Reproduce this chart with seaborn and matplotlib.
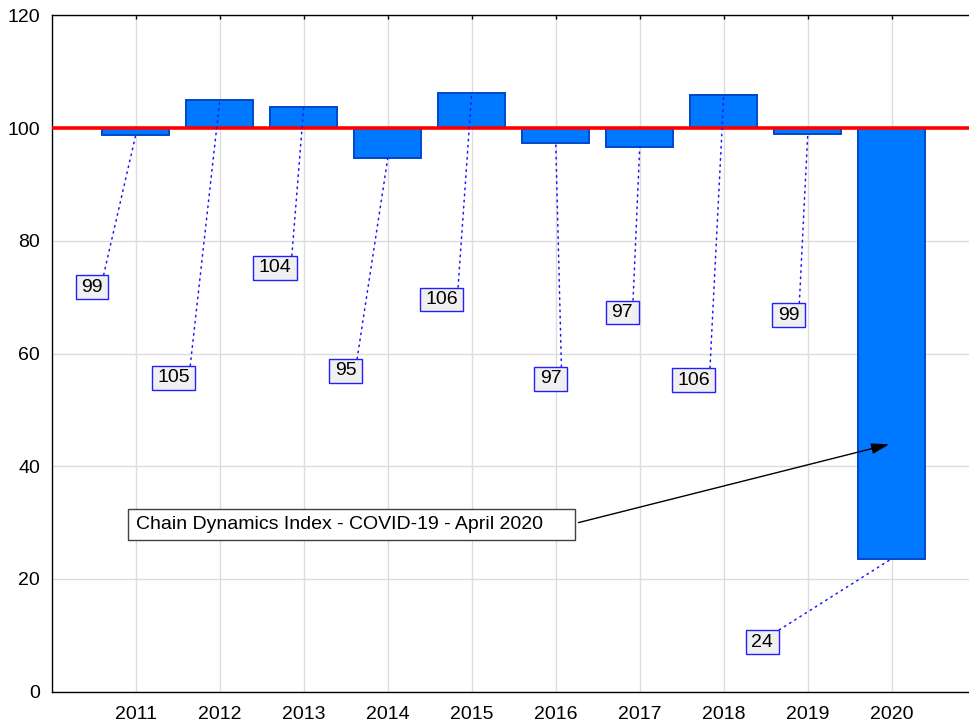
import numpy as np
import pandas as pd
import matplotlib
matplotlib.use("Agg")
import matplotlib.pyplot as plt
from matplotlib.patches import Rectangle
import seaborn as sns

# Chain dynamics index (previous year = 100)
years = [2011, 2012, 2013, 2014, 2015, 2016, 2017, 2018, 2019, 2020]
index_values = [98.8, 104.9, 103.8, 94.6, 106.3, 97.4, 96.7, 105.8, 98.9, 23.6]
base = 100
value_labels = [f"{v:.0f}" for v in index_values]

# where the value boxes sit (data coords)
label_x = [2010.48, 2011.45, 2012.66, 2013.50, 2014.64, 2015.94, 2016.79, 2017.64, 2018.77, 2018.46]
label_y = [71.8, 55.7, 75.2, 56.9, 69.6, 55.5, 67.3, 55.3, 66.8, 8.8]

note_text = "Chain Dynamics Index - COVID-19 - April 2020"

sns.set_style("white")
plt.rcParams["font.family"] = ["Liberation Sans", "DejaVu Sans"]
for key in ["text.color", "axes.labelcolor", "xtick.color", "ytick.color"]:
    plt.rcParams[key] = "black"

df = pd.DataFrame({"year": years, "change": np.array(index_values) - base})

fig = plt.figure(figsize=(9.69, 7.26), dpi=100)
ax = fig.add_axes([0.0534, 0.0472, 0.9466, 0.9317])

sns.barplot(data=df, x="year", y="change", native_scale=True, bottom=base,
            width=0.8, color="#0078FF", saturation=1, errorbar=None,
            edgecolor="#0048C8", linewidth=1.4, ax=ax, zorder=2)

ax.axhline(base, color="#FF0000", lw=2.6, zorder=3)

# value boxes with dotted leaders
for yr, val, lab, lx, ly in zip(years, index_values, value_labels, label_x, label_y):
    ax.annotate(lab, xy=(yr, val), xytext=(lx, ly), textcoords="data",
                ha="center", va="center", fontsize=14, zorder=4,
                bbox=dict(boxstyle="square,pad=0.29", mutation_aspect=0.58,
                          fc="#F0F0F0", ec="#2020FF", lw=1),
                arrowprops=dict(arrowstyle="-", color="#1818FF", lw=1.1,
                                linestyle=(0, (1, 3)), shrinkA=0, shrinkB=0,
                                relpos=(1, 1)))

# note box + arrow to the 2020 bar
ax.add_patch(Rectangle((2010.912, 26.9), 5.318, 5.46, fc="white",
                       ec="#404040", lw=1, zorder=4))
ax.text(2011.0, 29.6, note_text, ha="left", va="center", fontsize=14, zorder=5)
ax.annotate("", xy=(2019.97, 43.9), xytext=(2016.27, 30.0), zorder=5,
            arrowprops=dict(arrowstyle="-|>,head_length=0.6,head_width=0.18",
                            mutation_scale=18, color="black", lw=1,
                            shrinkA=0, shrinkB=0))

ax.set_xlim(2010, 2020.92)
ax.set_ylim(0, 120)
ax.set_xticks(years)
ax.set_xticklabels([str(y) for y in years])
ax.set_yticks(range(0, 121, 20))
ax.set(xlabel="", ylabel="")

ax.grid(True, color="#DCDCDC", lw=1)
ax.set_axisbelow(True)
ax.tick_params(direction="in", length=3, width=1, color="black",
               labelcolor="black", labelsize=14, top=True, right=False)
ax.tick_params(axis="x", pad=10.5)
ax.tick_params(axis="y", pad=8.5)
for side in ["left", "bottom", "top"]:
    ax.spines[side].set_color("black")
    ax.spines[side].set_linewidth(1)
ax.spines["right"].set_visible(False)

plt.savefig("out.png", dpi=100)
